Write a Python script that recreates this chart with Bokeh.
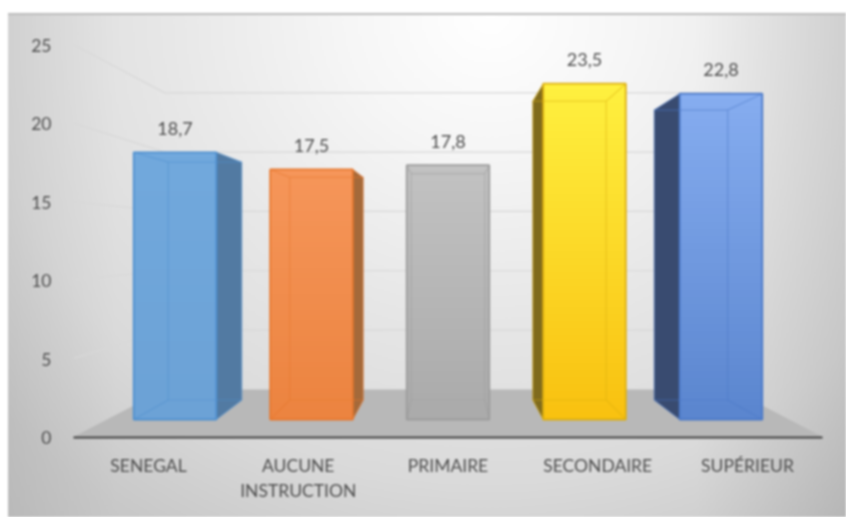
import numpy as np
from bokeh.embed import file_html
from bokeh.resources import INLINE
from bokeh.plotting import figure
from bokeh.models import LinearAxis, Range1d, FixedTicker, ColumnDataSource
from bokeh.core.properties import value

categories = ["SENEGAL", "AUCUNE\nINSTRUCTION", "PRIMAIRE", "SECONDAIRE", "SUPÉRIEUR"]
values = [18.7, 17.5, 17.8, 23.5, 22.8]
labels = ["18,7", "17,5", "17,8", "23,5", "22,8"]
axis_ticks = [0, 5, 10, 15, 20, 25]

top_colors = ["#72A9DD", "#F6965A", "#C2C2C2", "#FFF03F", "#86ADF0"]
bottom_colors = ["#6CA2D6", "#EC8440", "#ABABAB", "#F9C210", "#5B86CF"]
line_colors = ["#4F90D0", "#E8782E", "#9C9C9C", "#DDAF10", "#4B79C8"]
side_colors = ["#527AA2", "#A4693A", None, "#7F6A1C", "#394B70"]

FONT = "Lato"
W, H = 846, 517
LEFT, BOTTOM = 73, 80
PX = 136.5      # px per category on the bars' front plane
PY = 14.29      # px per value unit on the bars' front plane
BAR_W = 0.605
S_AXIS, S_REAR, S_WALL = 1.097, 0.89, 0.83
VP_X, VP_Y = 2.0, 12.4


def proj(x, v, s):
    """Perspective: shrink towards the vanishing point by factor s."""
    return VP_X + (float(x) - VP_X) * s, VP_Y + (float(v) - VP_Y) * s


def hexrgba(c):
    return [int(c[i:i + 2], 16) for i in (1, 3, 5)] + [255]


css = ("linear-gradient(90deg, #fff 0 8px, transparent 8px),"
       "linear-gradient(#fff 0 13px, #bcbcbc 13px 15px, transparent 15px),"
       "linear-gradient(90deg, transparent 82%, rgba(0,0,0,.09) 100%),"
       "linear-gradient(90deg, rgba(0,0,0,.05) 1%, transparent 14%),"
       "radial-gradient(ellipse 650px 600px at 490px 15px, #ffffff 0%, #f6f6f6 22%, #e7e7e7 50%, "
       "#dadada 78%, #c8c8c8 100%, #c0c0c0 120%)")

plot_w = W - LEFT
plot_h = H - BOTTOM
x0 = 2 + (73 - 447.5) / PX
y0 = (419 - 437) / PY
p = figure(width=W, height=H, output_backend="svg", toolbar_location=None,
           x_range=Range1d(x0, x0 + plot_w / PX), y_range=Range1d(y0, y0 + plot_h / PY),
           x_axis_location=None, y_axis_location=None,
           min_border_left=LEFT, min_border_right=0, min_border_top=0, min_border_bottom=BOTTOM,
           background_fill_alpha=0, border_fill_alpha=0, outline_line_color=None,
           styles={"background": css, "filter": "blur(0.9px)"})
p.grid.visible = False

# Axes on the plane of the chart's front edge
fx_u = PX * S_AXIS
fy_u = 15.68
fx0 = 2 + (73 - 447.5) / fx_u
p.extra_x_ranges["front"] = Range1d(fx0, fx0 + plot_w / fx_u)
p.extra_y_ranges["front"] = Range1d(0, plot_h / fy_u)

xax = LinearAxis(x_range_name="front", ticker=FixedTicker(ticks=list(range(5))),
                 major_label_overrides={i: c for i, c in enumerate(categories)},
                 bounds=(-0.5, 4.5), axis_line_color="#3f3f3f", axis_line_width=2,
                 major_tick_line_color=None, minor_tick_line_color=None,
                 major_label_standoff=11, major_label_text_font=FONT,
                 major_label_text_font_size="17.5px", major_label_text_color="#4f4f4f")
p.add_layout(xax, "below")
yax = LinearAxis(y_range_name="front", ticker=FixedTicker(ticks=axis_ticks),
                 axis_line_color=None, major_tick_line_color=None, minor_tick_line_color=None,
                 major_label_standoff=16, major_label_text_font=FONT,
                 major_label_text_font_size="17.5px", major_label_text_color="#4f4f4f")
p.add_layout(yax, "left")

# Floor
fl_x = [proj(-0.5, 0, S_AXIS)[0], proj(4.5, 0, S_AXIS)[0], proj(4.5, 0, S_WALL)[0], proj(-0.5, 0, S_WALL)[0]]
fl_y = [proj(-0.5, 0, S_AXIS)[1], proj(4.5, 0, S_AXIS)[1], proj(4.5, 0, S_WALL)[1], proj(-0.5, 0, S_WALL)[1]]
p.patch(fl_x, fl_y, fill_color="#B8B8B8", line_color=None)

# Gridlines: left wall then back wall
for t in axis_ticks[1:]:
    xs = [proj(-0.5, t, S_AXIS)[0], proj(-0.5, t, S_WALL)[0], proj(4.5, t, S_WALL)[0]]
    ys = [proj(-0.5, t, S_AXIS)[1], proj(-0.5, t, S_WALL)[1], proj(4.5, t, S_WALL)[1]]
    p.line(xs, ys, line_color="#D8D8D8", line_width=1.2)

# Bars
cats = np.arange(len(values), dtype=float)
for i, v in enumerate(values):
    l, r = i - BAR_W / 2, i + BAR_W / 2
    rl, r0 = proj(l, 0, S_REAR)
    rr, rv = proj(r, v, S_REAR)
    # outward side face
    if side_colors[i]:
        if rr > r:
            p.patch([r, rr, rr, r], [v, rv, r0, 0], fill_color=side_colors[i], line_color=None)
        if rl < l:
            p.patch([l, rl, rl, l], [v, rv, r0, 0], fill_color=side_colors[i], line_color=None)
    # front face with vertical gradient
    a, b = np.array(hexrgba(bottom_colors[i]), float), np.array(hexrgba(top_colors[i]), float)
    ramp = np.linspace(0, 1, 48)[:, None]
    rgba = (a + (b - a) * ramp).astype(np.uint8)
    img32 = np.frombuffer(rgba.tobytes(), dtype=np.uint32).reshape(48, 1).copy()
    p.image_rgba(image=[img32], x=[l], y=[0], dw=[BAR_W], dh=[v])
    # interior edges of the box
    p.multi_line([[rl, rr, rr, rl, rl], [l, rl], [r, rr], [l, rl], [r, rr]],
                 [[r0, r0, rv, rv, r0], [v, rv], [v, rv], [0, r0], [0, r0]],
                 line_color=line_colors[i], line_alpha=0.5, line_width=1.2)

src = ColumnDataSource(dict(x=cats, v=values, t=labels, c=line_colors))
p.vbar(x="x", top="v", bottom=0, width=BAR_W, source=src, fill_alpha=0,
       line_color="c", line_width=1.8)
p.text(x="x", y="v", text="t", source=src, y_offset=-24, text_align="center",
       text_baseline="middle", text_font=value(FONT), text_font_size="18px", text_color="#4f4f4f")

open("out.html", "w").write(file_html(p, INLINE))
